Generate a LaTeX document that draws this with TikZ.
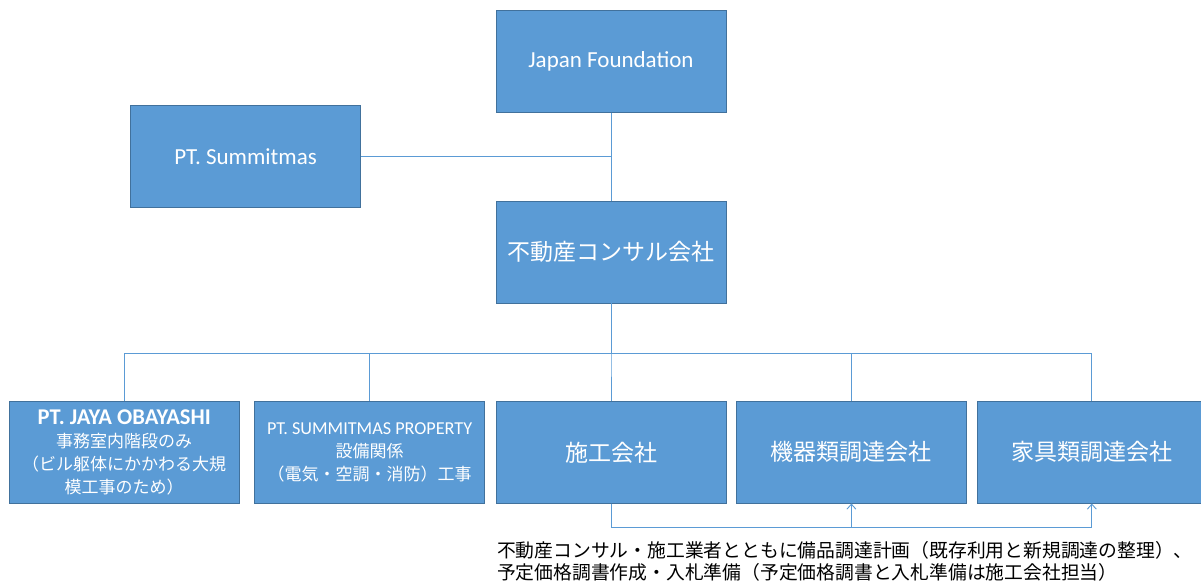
\documentclass[tikz,border=0pt]{standalone}
\usepackage{xcolor}
\usepackage{fontspec}
\setmainfont{Carlito}
\newfontfamily\jpfont{Noto Sans CJK JP}
\usepackage{tikz}
\usetikzlibrary{arrows.meta, positioning}

\definecolor{boxblue}{HTML}{5B9BD5}
\definecolor{boxedge}{HTML}{41719C}

\begin{document}
\begin{tikzpicture}[
      orgbox/.style={
        rectangle,
        minimum width=230pt,
        minimum height=102pt,
        text centered,
        align=center,
        draw=boxedge,
        fill=boxblue,
        text=white,
        font=\fontsize{23}{27}\selectfont
      },
      smallbox/.style={
        orgbox,
        font=\fontsize{17}{23}\selectfont
      },
      note/.style={
        anchor=north west,
        inner sep=0pt,
        align=left,
        font=\jpfont\fontsize{18.8}{22}\selectfont
      },
      line/.style={
        draw=boxblue,
        line width=0.9pt
      },
      arrow/.style={
        line,
        -{Straight Barb[length=5pt,width=9pt]}
      },
      node distance=10pt
    ]
    \useasboundingbox (0,0) rectangle (1201pt,-582pt);

    % Top Nodes
    \node (japan) [orgbox] at (611pt,-61.5pt) {Japan Foundation};
    \node (consul) [orgbox, below=88pt of japan] {\jpfont 不動産コンサル会社};
    \node (summit) [orgbox, left=135pt of japan, yshift=-95pt] {PT. Summitmas};

    % Bottom Nodes
    \node (builder) [orgbox, below=98pt of consul] {\jpfont 施工会社};
    \node (facility) [smallbox, left=11pt of builder] {{\fontsize{18.2}{21}\selectfont PT. SUMMITMAS PROPERTY}\\ \jpfont 設備関係\\ \jpfont （電気・空調・消防）工事};
    \node (jaya) [smallbox, left=15pt of facility] {{\fontsize{22.5}{24}\selectfont\bfseries PT. JAYA OBAYASHI}\\ \jpfont 事務室内階段のみ\\ \jpfont （ビル躯体にかかわる大規\\ \jpfont 模工事のため）};
    \node (equip) [orgbox, right=of builder] {\jpfont 機器類調達会社};
    \node (furniture) [orgbox, right=of equip] {\jpfont 家具類調達会社};

    % Note under the bottom row
    \node (remark) [note, below right=38pt and 1pt of builder.south west] {不動産コンサル・施工業者とともに備品調達計画（既存利用と新規調達の整理）、\\予定価格調書作成・入札準備（予定価格調書と入札準備は施工会社担当）};

    % Lines between the top nodes
    \draw [line] (japan) -- (consul);
    \draw [line] (summit) -- (summit -| japan.south);

    % Lines to the bottom row
    \foreach \n in {jaya, facility, builder, equip, furniture}
      \draw [line] (consul.south) -- ++(0,-50pt) -| (\n.north);

    % Arrows from the builder
    \draw [arrow] (builder.south) -- ++(0,-24pt) -| (equip.south);
    \draw [arrow] (builder.south) -- ++(0,-24pt) -| (furniture.south);

    \end{tikzpicture}
\end{document}
